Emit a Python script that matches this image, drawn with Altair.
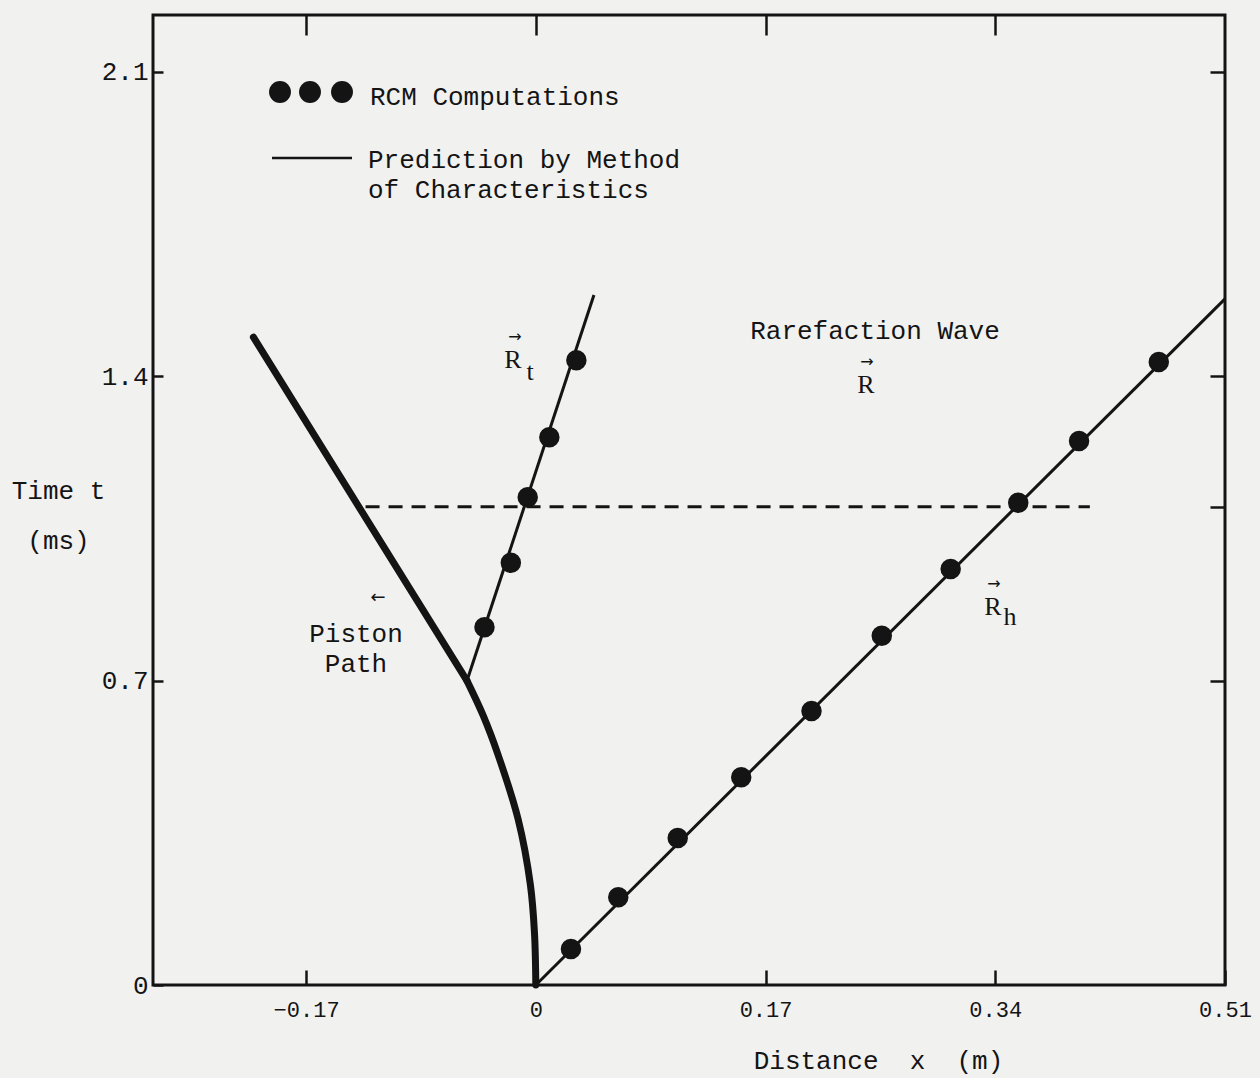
import altair as alt
import pandas as pd

# ---- data (x in m, t in ms) ----
rh_dot_x = [0.026, 0.061, 0.105, 0.152, 0.204, 0.256, 0.307, 0.357, 0.402, 0.461]
rh_dot_t = [0.083, 0.202, 0.338, 0.478, 0.630, 0.803, 0.957, 1.109, 1.251, 1.433]
rt_dot_x = [-0.038, -0.0185, -0.006, 0.010, 0.030]
rt_dot_t = [0.823, 0.971, 1.122, 1.260, 1.437]
rh_line_x = [0.0, 0.51]
rh_line_t = [0.0, 1.578]
rt_line_x = [-0.051, 0.043]
rt_line_t = [0.699, 1.587]
piston_curve_x = [0.0, -0.001, -0.004, -0.013, -0.028, -0.039, -0.051]
piston_curve_t = [0.0, 0.12, 0.23, 0.38, 0.53, 0.62, 0.70]
piston_straight_x = [-0.051, -0.209]
piston_straight_t = [0.70, 1.49]
dash_x = [-0.126, 0.41]
dash_t = [1.1, 1.1]
x_ticks = [-0.17, 0, 0.17, 0.34, 0.51]
y_ticks = [0, 0.7, 1.4, 2.1]
right_ticks = [0.7, 1.1, 1.4, 2.1]
top_ticks = [-0.17, 0, 0.17, 0.34]
x_domain = [-0.2833, 0.51]
y_domain = [0, 2.231]

INK = "#141414"
FONT = "Liberation Mono"
SERIF = "Liberation Serif"

xs = alt.Scale(domain=x_domain, nice=False, zero=False)
ys = alt.Scale(domain=y_domain, nice=False, zero=False)

def df(x, t):
    return pd.DataFrame({"x": x, "t": t})

x_axis = alt.Axis(values=x_ticks, format=".2~f", orient="bottom", offset=-15, tickSize=15,
                  domain=False, grid=False, labelFont=FONT, labelFontSize=22, labelPadding=14,
                  labelColor=INK, tickColor=INK, tickWidth=2.5, labelFlush=False,
                  title="Distance\u00a0\u00a0x\u00a0\u00a0(m)", titleFont=FONT, titleFontSize=26,
                  titleFontWeight="normal", titleColor=INK, titleX=725, titleY=90,
                  titleBaseline="middle", titleAlign="center")
y_axis = alt.Axis(values=y_ticks, format=".1~f", orient="left", offset=-10, tickSize=10,
                  domain=False, grid=False, labelFont=FONT, labelFontSize=26, labelPadding=5,
                  labelColor=INK, tickColor=INK, tickWidth=2.5, labelFlush=False,
                  title=["Time t", "(ms)"], titleFont=FONT, titleFontSize=26,
                  titleFontWeight="normal", titleColor=INK, titleAngle=0, titleX=-105,
                  titleY=475, titleAlign="center", titleBaseline="middle", titleLineHeight=50)
top_axis = alt.Axis(values=top_ticks, orient="top", offset=-20, tickSize=20, labels=False,
                    domain=False, grid=False, tickColor=INK, tickWidth=2.5, title=None)
right_axis = alt.Axis(values=right_ticks, orient="right", offset=-15, tickSize=15, labels=False,
                      domain=False, grid=False, tickColor=INK, tickWidth=2.5, title=None)

rh_line = alt.Chart(df(rh_line_x, rh_line_t)).mark_line(color=INK, strokeWidth=3).encode(
    x=alt.X("x:Q", scale=xs, axis=x_axis),
    y=alt.Y("t:Q", scale=ys, axis=y_axis),
)
dash_line = alt.Chart(df(dash_x, dash_t)).mark_line(color=INK, strokeWidth=3, strokeDash=[14, 9]).encode(
    x=alt.X("x:Q", scale=xs, axis=top_axis),
    y=alt.Y("t:Q", scale=ys, axis=right_axis),
)
rt_line = alt.Chart(df(rt_line_x, rt_line_t)).mark_line(color=INK, strokeWidth=3).encode(
    x=alt.X("x:Q", scale=xs, axis=None),
    y=alt.Y("t:Q", scale=ys, axis=None),
)
piston_curve = alt.Chart(df(piston_curve_x, piston_curve_t)).mark_line(
    color=INK, strokeWidth=7, interpolate="catmull-rom", strokeCap="round").encode(
    x=alt.X("x:Q", scale=xs, axis=None),
    y=alt.Y("t:Q", scale=ys, axis=None),
    order="t:Q",
)
piston_straight = alt.Chart(df(piston_straight_x, piston_straight_t)).mark_line(
    color=INK, strokeWidth=7, strokeCap="round").encode(
    x=alt.X("x:Q", scale=xs, axis=None),
    y=alt.Y("t:Q", scale=ys, axis=None),
    order="t:Q",
)
dots = alt.Chart(pd.concat([df(rh_dot_x, rh_dot_t), df(rt_dot_x, rt_dot_t)])).mark_circle(
    color=INK, size=420, opacity=1).encode(
    x=alt.X("x:Q", scale=xs, axis=None),
    y=alt.Y("t:Q", scale=ys, axis=None),
)

one = pd.DataFrame({"a": [0]})

def label(txt, px, py, size=26, align="center", font=FONT, baseline="middle"):
    return alt.Chart(one).mark_text(text=txt, fontSize=size, font=font, align=align,
                                    baseline=baseline, color=INK).encode(
        x=alt.value(px), y=alt.value(py))

legend_dots = [
    alt.Chart(one).mark_circle(color=INK, size=480, opacity=1).encode(x=alt.value(px), y=alt.value(77))
    for px in (127, 157, 189)
]
legend_rule = alt.Chart(one).mark_rule(color=INK, strokeWidth=2.5).encode(
    x=alt.value(119), x2=alt.value(199), y=alt.value(143))

texts = [
    label("RCM Computations", 217, 82, align="left"),
    label("Prediction by Method", 215, 145, align="left"),
    label("of Characteristics", 215, 175, align="left"),
    label("Rarefaction Wave", 722, 316),
    label("R", 713, 370, size=26, font=SERIF),
    label("\u2192", 714, 347, size=16, font="DejaVu Sans"),
    label("R", 360, 345, size=26, font=SERIF),
    label("\u2192", 362, 322, size=16, font="DejaVu Sans"),
    label("t", 377, 357, size=26, font=SERIF),
    label("R", 840, 592, size=26, font=SERIF),
    label("\u2192", 841, 569, size=16, font="DejaVu Sans"),
    label("h", 857, 602, size=26, font=SERIF),
    label("\u2190", 225, 583, size=18, font="DejaVu Sans"),
    label("Piston", 203, 619),
    label("Path", 203, 649),
]

chart = alt.layer(
    rh_line, dash_line, rt_line, piston_curve, piston_straight, dots, legend_rule,
    *legend_dots, *texts
).resolve_axis(x="independent", y="independent").properties(
    width=1072, height=970,
    autosize=alt.AutoSizeParams(type="none"),
    padding={"left": 153, "top": 15, "right": 35, "bottom": 93},
    background="#f1f1f0",
).configure_view(stroke=INK, strokeWidth=3)

chart.save("out.html", embed_options={"renderer": "svg", "actions": False})
